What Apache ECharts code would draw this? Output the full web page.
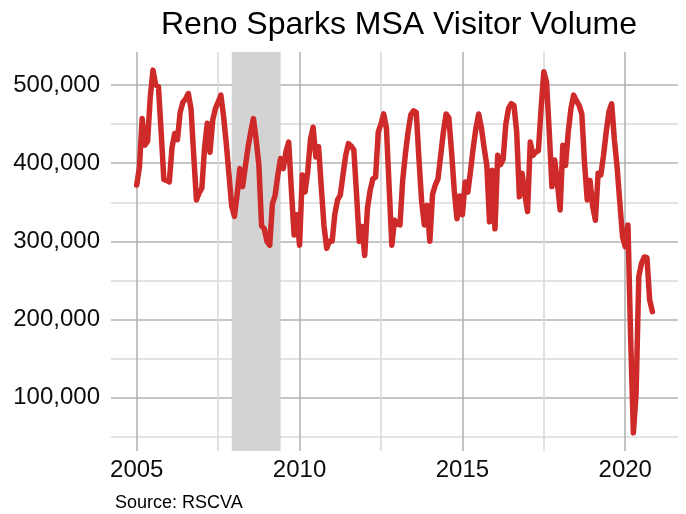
<!DOCTYPE html>
<html>
<head>
<meta charset="utf-8">
<script src="https://cdn.jsdelivr.net/npm/echarts@6.0.0/dist/echarts.min.js"></script>
<style>
  html, body { margin: 0; padding: 0; background: #fff; }
  #chart { width: 686px; height: 514px; }
</style>
</head>
<body>
<div id="chart"></div>
<script>
// monthly visitor volume, thousands, Jan 2005 .. Nov 2020
var START_YEAR = 2005;
var visitorsK = [
  372, 395, 457, 423, 428, 485, 519, 500, 498, 440, 379, 378, // 2005
  376, 420, 438, 430, 465, 478, 482, 489, 470, 410, 353, 362, // 2006
  368, 420, 451, 414, 455, 470, 478, 487, 460, 425, 385, 345, // 2007
  332, 360, 393, 370, 395, 420, 440, 457, 430, 398, 320, 316, // 2008
  300, 295, 348, 359, 385, 406, 393, 415, 427, 365, 308, 334, // 2009
  295, 385, 363, 389, 430, 446, 408, 421, 370, 320, 291, 300, // 2010
  300, 335, 353, 359, 385, 410, 425, 422, 417, 360, 300, 319, // 2011
  282, 342, 365, 380, 382, 440, 450, 463, 445, 370, 295, 327, // 2012
  322, 321, 378, 412, 440, 462, 467, 465, 405, 350, 321, 346, // 2013
  300, 360, 372, 380, 410, 440, 463, 458, 415, 365, 329, 358, // 2014
  334, 376, 363, 390, 420, 445, 463, 445, 420, 397, 325, 391, // 2015
  316, 410, 398, 405, 450, 470, 476, 474, 440, 357, 387, 360, // 2016
  338, 427, 410, 414, 416, 470, 517, 504, 440, 370, 404, 375, // 2017
  340, 423, 397, 440, 470, 487, 480, 474, 463, 400, 353, 378, // 2018
  345, 327, 387, 385, 410, 440, 466, 476, 430, 395, 350, 306, // 2019
  293, 321, 175, 55, 105, 255, 272, 280, 279, 225, 210        // 2020
];

// recession (Dec 2007 - Jun 2009)
var recession = [2007.917, 2009.417];

var yearTicks = [2005, 2010, 2015, 2020];
var yearMinorTicks = [2007.5, 2012.5, 2017.5];
var valueTicks = [100000, 200000, 300000, 400000, 500000];
var valueMinorTicks = [50000, 150000, 250000, 350000, 450000];

var X_MIN = 2004.21, X_MAX = 2021.62;
var Y_MIN = 31800, Y_MAX = 542200;

var FONT = 'Liberation Sans, Arial, sans-serif';
var MAJOR = '#b3b3b3';
var MINOR = '#dadada';

var seriesData = visitorsK.map(function (v, i) {
  return [START_YEAR + i / 12, v * 1000];
});

function xAxis(ticks, color, showLabel) {
  return {
    type: 'value',
    position: 'bottom',
    min: X_MIN,
    max: X_MAX,
    axisLine: { show: false },
    axisTick: { show: false, customValues: ticks },
    axisLabel: {
      show: showLabel,
      customValues: ticks,
      margin: 7,
      fontSize: 24,
      fontFamily: FONT,
      color: '#0d0d0d',
      formatter: function (v) { return String(v); }
    },
    splitLine: { show: true, lineStyle: { color: color, width: 1.6 } }
  };
}

function yAxis(ticks, color, showLabel) {
  return {
    type: 'value',
    position: 'left',
    min: Y_MIN,
    max: Y_MAX,
    axisLine: { show: false },
    axisTick: { show: false, customValues: ticks },
    axisLabel: {
      show: showLabel,
      customValues: ticks,
      margin: 11,
      fontSize: 24,
      fontFamily: FONT,
      color: '#0d0d0d',
      formatter: function (v) { return v.toLocaleString('en-US'); }
    },
    splitLine: { show: true, lineStyle: { color: color, width: 1.6 } }
  };
}

var myChart = echarts.init(document.getElementById('chart'));
myChart.setOption({
  animation: false,
  backgroundColor: '#fff',
  title: [{
    text: 'Reno Sparks MSA Visitor Volume',
    left: 394,
    top: 4,
    textAlign: 'center',
    textStyle: { fontSize: 32, fontWeight: 'normal', fontFamily: FONT, color: '#000' }
  }, {
    text: 'Source: RSCVA',
    left: 110,
    top: 489,
    textStyle: { fontSize: 18, fontWeight: 'normal', fontFamily: FONT, color: '#000' }
  }],
  grid: { left: 111, right: 8, top: 52, bottom: 63, containLabel: false, outerBoundsMode: 'none' },
  xAxis: [xAxis(yearMinorTicks, MINOR, false), xAxis(yearTicks, MAJOR, true)],
  yAxis: [yAxis(valueMinorTicks, MINOR, false), yAxis(valueTicks, MAJOR, true)],
  series: [{
    type: 'line',
    xAxisIndex: 1,
    yAxisIndex: 1,
    data: seriesData,
    showSymbol: false,
    symbol: 'none',
    silent: true,
    lineStyle: { color: '#cf2a2a', width: 5.5, cap: 'round', join: 'round' },
    markArea: {
      silent: true,
      itemStyle: { color: '#d3d3d3', opacity: 1 },
      data: [[{ xAxis: recession[0] }, { xAxis: recession[1] }]]
    }
  }]
});
</script>
</body>
</html>
